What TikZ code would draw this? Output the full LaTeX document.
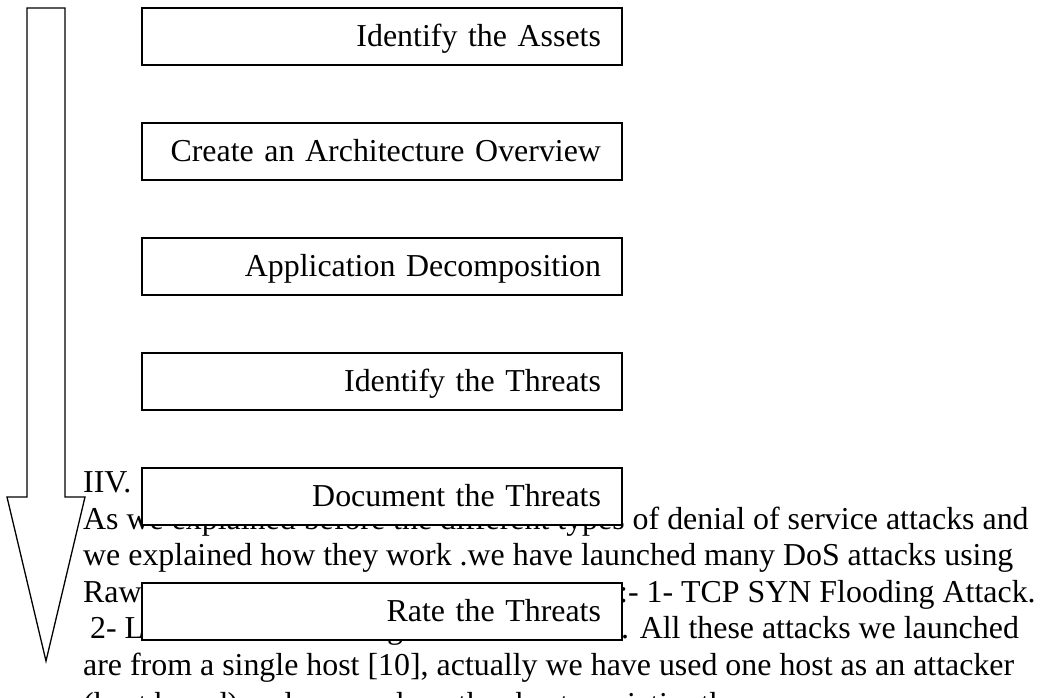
\documentclass[tikz,border=0pt]{standalone}
\usepackage{fontspec}
\setmainfont{Liberation Serif}
\usetikzlibrary{positioning}

\begin{document}
\begin{tikzpicture}[x=1pt, y=1pt, node distance=115pt,
    every node/.style={font=\fontsize{31.9}{36.5}\selectfont, inner sep=0pt},
    txt/.style={anchor=base west},
    stepbox/.style={draw, line width=1.4pt, fill=white, minimum width=480pt, minimum height=57pt,
                    text width=438pt, inner xsep=21pt, align=right, text height=20pt, text depth=0pt}]

  \useasboundingbox (0,0) rectangle (1045,698);
  \clip (0,0) rectangle (1045,698);

  % paragraph behind the boxes
  \node[txt] (heading) at (83,205)   {IIV.};
  \node[txt] (line1)   at (83,168.5) {As we explained before the different types of denial of service attacks and};
  \node[txt] (line2)   at (83,132)   {we explained how they work .we have launched many DoS attacks using};
  \node[txt] (line3a)  at (83,95.5)  {Raw};
  \node[txt] (line3b)  at (619,95.5) {:- 1- TCP SYN Flooding Attack.};
  \node[txt] (line4a)  at (90,59)    {2- L};
  \node[txt] (line4g)  at (387,59)   {g};
  \node[txt] (line4b)  at (621,59)   {. All these attacks we launched};
  \node[txt] (line5)   at (83,22.5)  {are from a single host [10], actually we have used one host as an attacker};
  \node[txt] (line6)   at (83,-17)   {(host based) and we used another host as victim the};

  % process steps
  \node[stepbox] (assets) at (382,661.5) {Identify the Assets};
  \node[stepbox] (arch)   [below of=assets] {Create an Architecture Overview};
  \node[stepbox] (decomp) [below of=arch]   {Application Decomposition};
  \node[stepbox] (ident)  [below of=decomp] {Identify the Threats};
  \node[stepbox] (doc)    [below of=ident]  {Document the Threats};
  \node[stepbox] (rate)   [below of=doc]    {Rate the Threats};

  % block arrow
  \draw[line width=1.3pt] (27,690) -- (65,690) -- (65,201) -- (85,201) -- (46,37)
    -- (7,201) -- (27,201) -- cycle;

\end{tikzpicture}
\end{document}
